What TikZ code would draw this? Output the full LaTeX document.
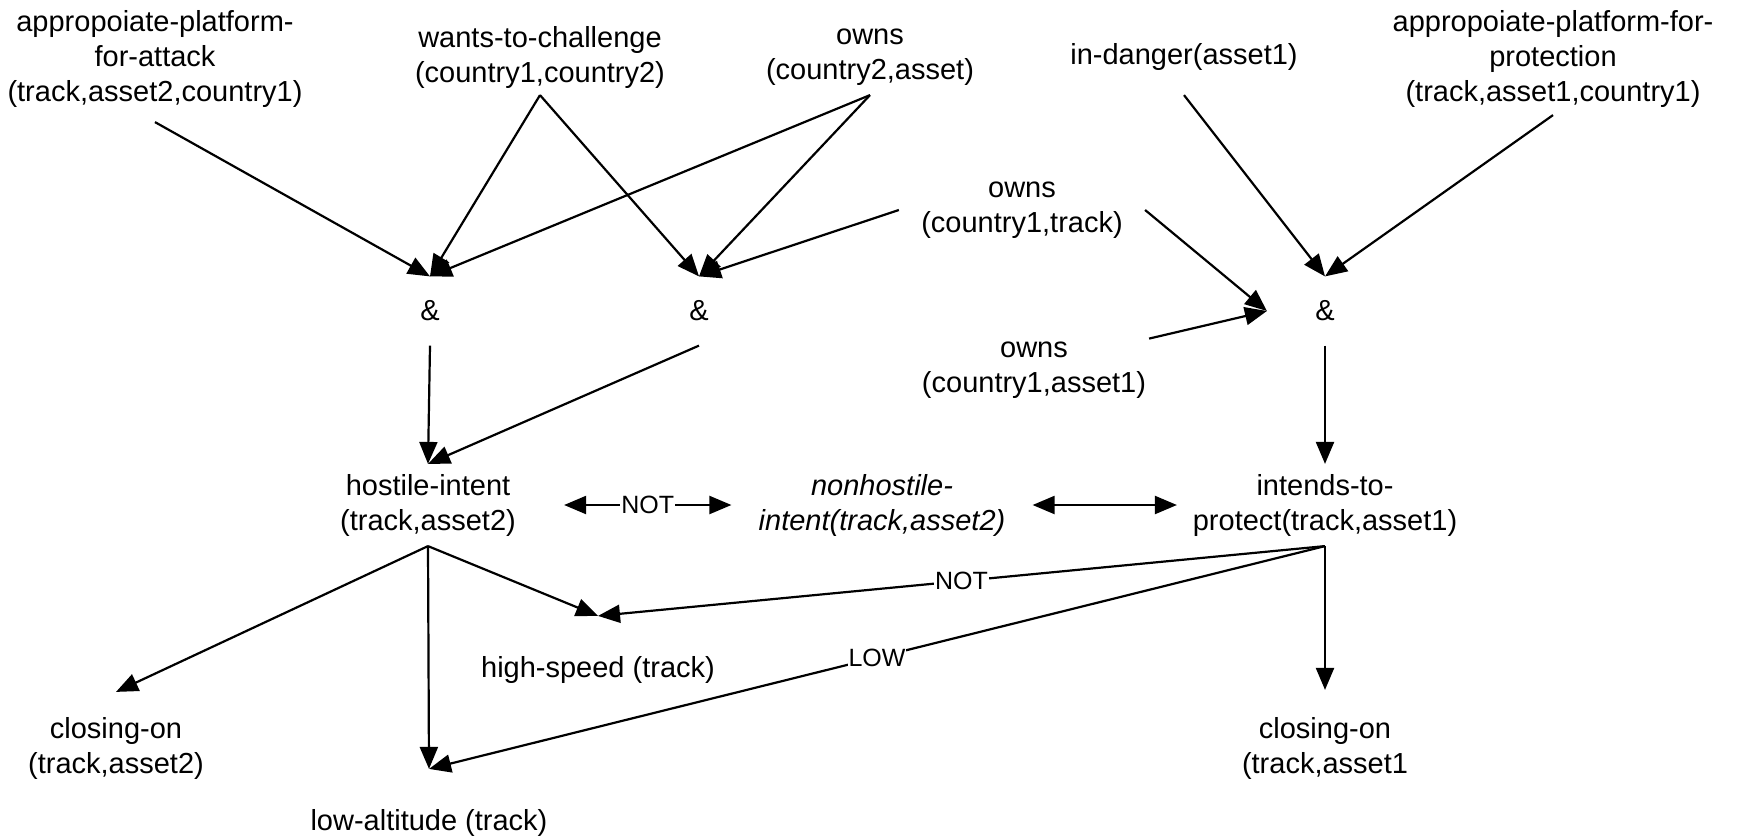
\documentclass[tikz,border=0pt]{standalone}
\usepackage{fontspec}
\setmainfont{Liberation Sans}
\usetikzlibrary{arrows.meta}
\begin{document}
\begin{tikzpicture}[x=1pt, y=-1pt, line width=2.2pt, >={Triangle[length=22pt,width=18pt]},
		every node/.style={font=\fontsize{29}{35}\selectfont, align=center, inner sep=2pt},
		gate/.style={minimum width=114pt, minimum height=67pt},
		tag/.style={fill=white, inner sep=1pt, font=\fontsize{25}{28}\selectfont}]
	\useasboundingbox (0,0) rectangle (1739,838);
	% top row
	\node (apfA) at (155,59) [minimum height=124pt] {appropoiate-platform-\\for-attack\\(track,asset2,country1)};
	\node (wants) at (540,57) [minimum height=74pt] {wants-to-challenge\\(country1,country2)};
	\node (ownsA) at (870,57) [minimum height=74pt] {owns\\(country2,asset)};
	\node (danger) at (1184,57) [minimum height=74pt] {in-danger(asset1)};
	\node (apfP) at (1553,59) [minimum height=110pt] {appropoiate-platform-for-\\protection\\(track,asset1,country1)};
	\node (ownsB) at (1022,210) [minimum width=244pt] {owns\\(country1,track)};
	\node (ownsC) at (1034,370) {owns\\(country1,asset1)};
	% and-gates
	\node (amp1) at (430,311) [gate] {\&};
	\node (amp2) at (699,311) [gate] {\&};
	\node (amp3) at (1325,311) [gate] {\&};
	% intents
	\node (hostile) at (428,505) [minimum width=270pt, minimum height=80pt] {hostile-intent\\(track,asset2)};
	\node (nonhost) at (882,505) [minimum width=299pt] {\itshape nonhostile-\\\itshape intent(track,asset2)};
	\node (intends) at (1325,505) [minimum width=294pt, minimum height=80pt] {intends-to-\\protect(track,asset1)};
	% observations
	\node (highspeed) at (598,670) [minimum height=106pt] {high-speed (track)};
	\node (lowalt) at (429,823) [minimum height=106pt] {low-altitude (track)};
	\node (closing2) at (116,748) [minimum height=110pt] {closing-on\\(track,asset2)};
	\node (closing1) at (1325,748) [minimum height=114pt] {closing-on\\(track,asset1};
	% into the gates
	\draw[->] (apfA.south) -- (amp1.north);
	\draw[->] (wants.south) -- (amp1.north);
	\draw[->] (wants.south) -- (amp2.north);
	\draw[->] (ownsA.south) -- (amp1.north);
	\draw[->] (ownsA.south) -- (amp2.north);
	\draw[->] (ownsB.west) -- (amp2.north);
	\draw[->] (ownsB.east) -- (amp3.west);
	\draw[->] (ownsC.north east) -- (amp3.west);
	\draw[->] (danger.south) -- (amp3.north);
	\draw[->] (apfP.south) -- (amp3.north);
	% gates to intents
	\draw[->] (amp1.south) -- (hostile.north);
	\draw[->] (amp2.south) -- (hostile.north);
	\draw[->] (amp3.south) -- (intends.north);
	\draw[<->] (hostile.east) -- node[tag] {NOT} (nonhost.west);
	\draw[<->] (nonhost.east) -- (intends.west);
	% intents to observations
	\draw[->] (hostile.south) -- (closing2.north);
	\draw[->] (hostile.south) -- (lowalt.north);
	\draw[->] (hostile.south) -- (highspeed.north);
	\draw[->] (intends.south) -- node[tag] {NOT} (highspeed.north);
	\draw[->] (intends.south) -- node[tag] {LOW} (lowalt.north);
	\draw[->] (intends.south) -- (closing1.north);
\end{tikzpicture}
\end{document}
